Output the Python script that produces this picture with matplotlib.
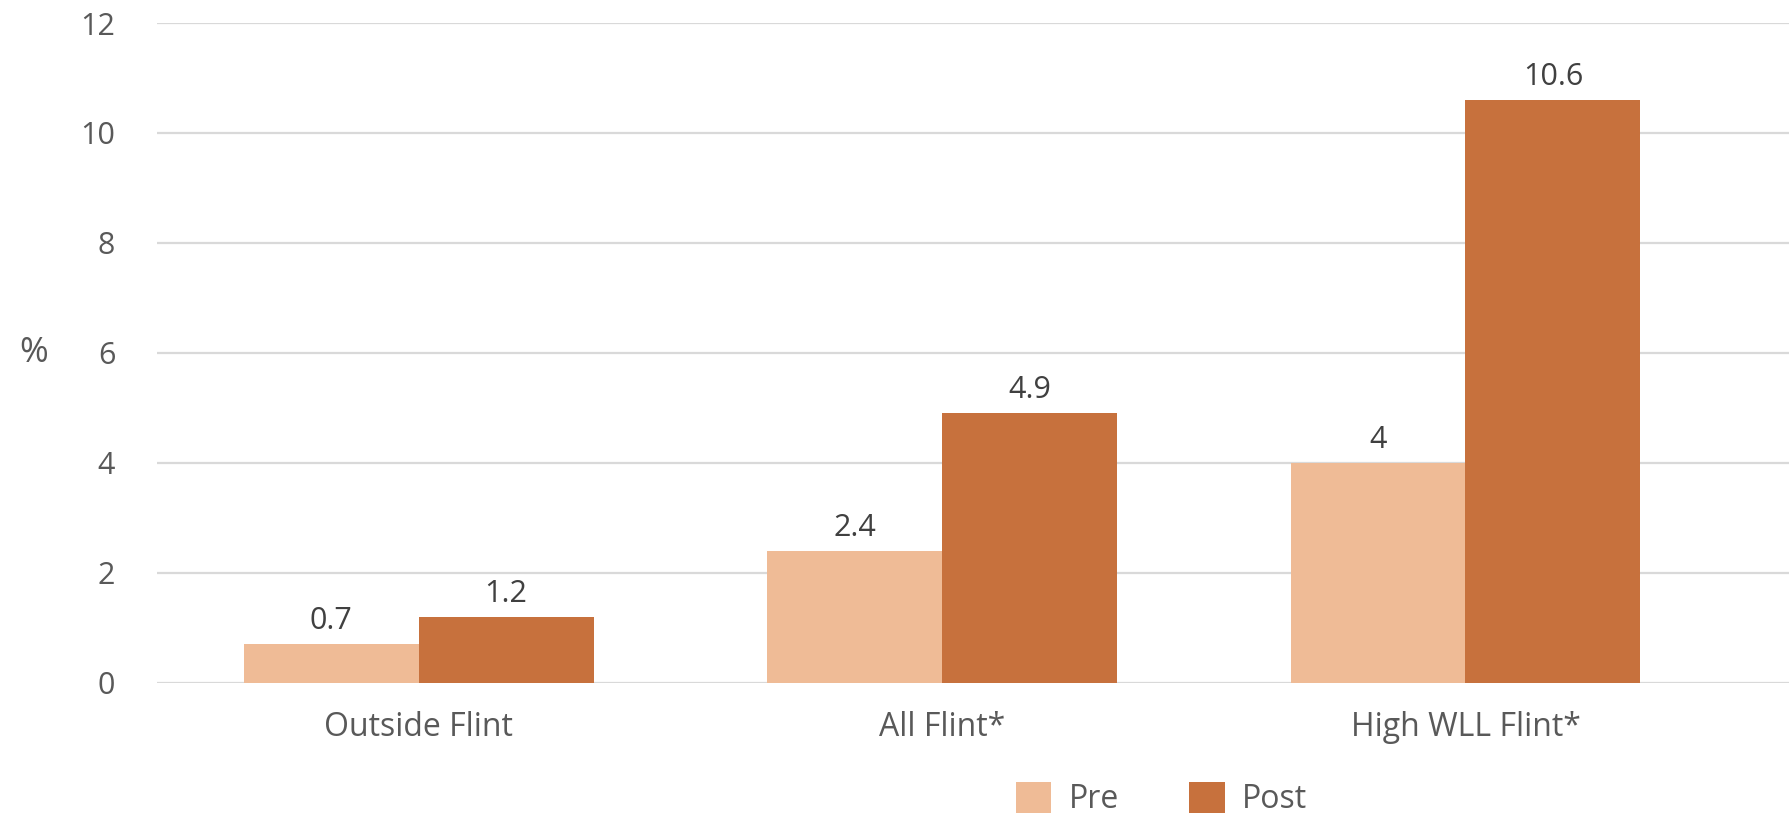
import matplotlib.pyplot as plt
import numpy as np

# =========================
# Data
# =========================
categories = ["Outside Flint", "All Flint*", "High WLL Flint*"]
pre_values = [0.7, 2.4, 4]
post_values = [1.2, 4.9, 10.6]
series_names = ["Pre", "Post"]
y_ticks = [0, 2, 4, 6, 8, 10, 12]

# =========================
# Style
# =========================
plt.rcParams["font.family"] = ["Open Sans", "DejaVu Sans"]
pre_color = "#EFBB96"
post_color = "#C7713D"
text_color = "#595959"

fig = plt.figure(figsize=(17.9, 8.13), dpi=100)
ax = fig.add_axes([0.0877, 0.160, 0.9123, 0.8117])

x = np.arange(len(categories))
width = 0.334

bars_pre = ax.bar(x - width / 2, pre_values, width, color=pre_color, label=series_names[0], zorder=3)
bars_post = ax.bar(x + width / 2, post_values, width, color=post_color, label=series_names[1], zorder=3)

ax.bar_label(bars_pre, labels=[f"{v:g}" for v in pre_values], padding=6, fontsize=22, color="#404040")
ax.bar_label(bars_post, labels=[f"{v:g}" for v in post_values], padding=6, fontsize=22, color="#404040")

# =========================
# Axes
# =========================
ax.set_ylim(0, 12)
ax.set_yticks(y_ticks)
ax.set_xlim(-0.5, 2.62)
ax.set_xticks(x)
ax.set_xticklabels(categories)
ax.tick_params(axis="x", length=0, labelsize=23, labelcolor=text_color, pad=20)
ax.tick_params(axis="y", length=0, labelsize=22, labelcolor=text_color, pad=30)
ax.grid(axis="y", color="#d9d9d9", linewidth=1.6, zorder=0)
for s in ax.spines.values():
    s.set_visible(False)

fig.text(0.019, ax.transData.transform((0, 6))[1] / fig.bbox.height, "%",
         fontsize=25, color=text_color, va="center", ha="center")

fig.legend(loc="center", bbox_to_anchor=(0.649, 0.017), ncol=2, frameon=False,
           fontsize=23, labelcolor=text_color, handlelength=1.1, handleheight=1.1,
           handletextpad=0.55, columnspacing=2.2)

fig.savefig("out.png", dpi=100)
